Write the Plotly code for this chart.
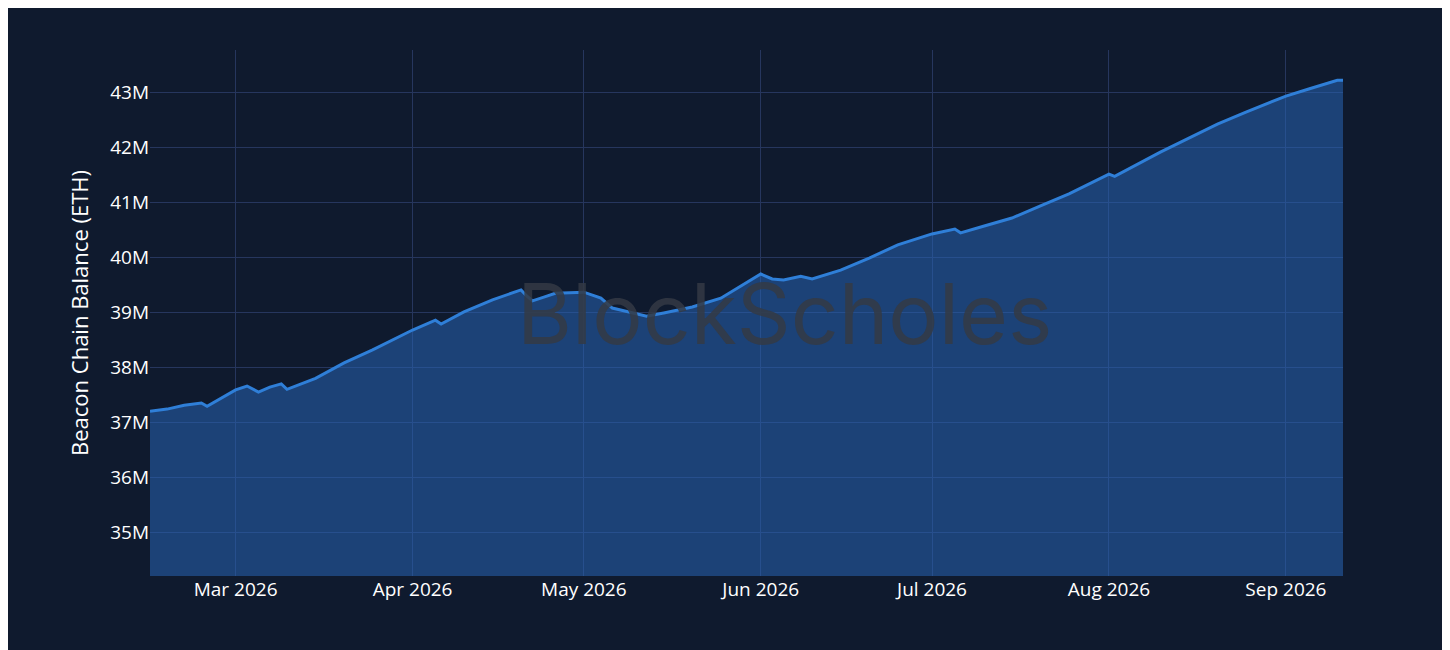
import plotly.graph_objects as go

dates = [
    "2026-02-14", "2026-02-17", "2026-02-20", "2026-02-23", "2026-02-24",
    "2026-03-01", "2026-03-03", "2026-03-05", "2026-03-07", "2026-03-09",
    "2026-03-10", "2026-03-15", "2026-03-20", "2026-03-25", "2026-04-01",
    "2026-04-05", "2026-04-06", "2026-04-10", "2026-04-15", "2026-04-20",
    "2026-04-21", "2026-04-22", "2026-04-24", "2026-04-26", "2026-05-01",
    "2026-05-04", "2026-05-06", "2026-05-09", "2026-05-12", "2026-05-15",
    "2026-05-20", "2026-05-25", "2026-06-01", "2026-06-03", "2026-06-05",
    "2026-06-08", "2026-06-10", "2026-06-15", "2026-06-20", "2026-06-25",
    "2026-07-01", "2026-07-05", "2026-07-06", "2026-07-10", "2026-07-15",
    "2026-07-20", "2026-07-25", "2026-08-01", "2026-08-02", "2026-08-10",
    "2026-08-20", "2026-08-25", "2026-09-01", "2026-09-05", "2026-09-10",
    "2026-09-11",
]
balance_m = [
    37.20, 37.24, 37.31, 37.35, 37.29,
    37.59, 37.66, 37.55, 37.64, 37.70,
    37.60, 37.80, 38.08, 38.32, 38.68,
    38.86, 38.79, 39.01, 39.23, 39.41,
    39.30, 39.21, 39.28, 39.35, 39.37,
    39.26, 39.08, 39.01, 38.93, 38.99,
    39.10, 39.26, 39.70, 39.61, 39.59,
    39.66, 39.61, 39.77, 39.99, 40.23,
    40.43, 40.52, 40.45, 40.57, 40.72,
    40.94, 41.16, 41.52, 41.48, 41.92,
    42.43, 42.65, 42.94, 43.07, 43.23,
    43.23,
]
balance = [v * 1e6 for v in balance_m]

fig = go.Figure(go.Scatter(
    x=dates, y=balance, mode="lines",
    line=dict(color="#2f7fd8", width=3),
    fill="tozeroy", fillcolor="rgba(40,100,180,0.55)",
))

# watermark
fig.add_annotation(
    text="BlockScholes", xref="paper", yref="paper", x=0.532, y=0.5,
    showarrow=False, font=dict(size=84, color="rgba(52,58,68,0.85)", family="Inter"),
)

grid = "#26365e"
fig.update_layout(
    width=1450, height=650,
    paper_bgcolor="#0f1a2e", plot_bgcolor="#0f1a2e",
    margin=dict(l=142, r=115, t=42, b=82),
    font=dict(family="Open Sans", color="white", size=19),
    showlegend=False,
    xaxis=dict(
        range=["2026-02-14", "2026-09-11"], gridcolor=grid, showline=False,
        zeroline=False, tickformat="%b %Y", dtick="M1", ticks="",
    ),
    yaxis=dict(
        range=[34.2e6, 43.78e6], gridcolor=grid, zeroline=False,
        title=dict(text="Beacon Chain Balance (ETH)", font=dict(size=22)),
        tickformat="~s", dtick=1e6,
    ),
)

fig.write_html("out.html")
